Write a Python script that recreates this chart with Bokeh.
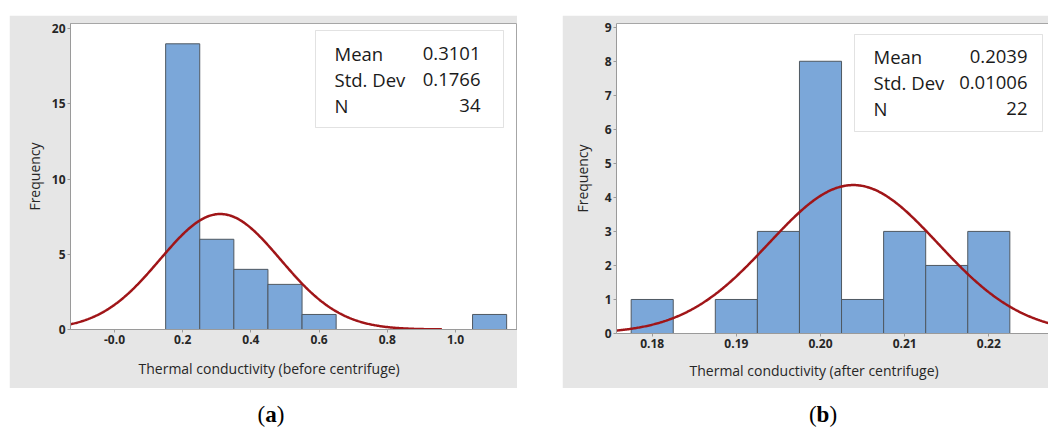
import numpy as np
from bokeh.plotting import figure
from bokeh.models import Range1d, FixedTicker, Label, BoxAnnotation, Spacer, Div, LinearAxis, Title
from bokeh.layouts import row, column
from bokeh.embed import file_html
from bokeh.resources import INLINE

# ---------------- data: panel (a) ----------------
bin_left_a = [0.15, 0.25, 0.35, 0.45, 0.55, 1.05]
bin_right_a = [0.25, 0.35, 0.45, 0.55, 0.65, 1.15]
counts_a = [19, 6, 4, 3, 1, 1]
mean_a, sd_a, n_a = 0.3101, 0.1766, 34
binw_a = 0.1
xticks_a = [0.0, 0.2, 0.4, 0.6, 0.8, 1.0]
xtick_labels_a = ["-0.0", "0.2", "0.4", "0.6", "0.8", "1.0"]
yticks_a = [0, 5, 10, 15, 20]
stats_labels_a = ["Mean", "Std. Dev", "N"]
stats_values_a = ["0.3101", "0.1766", "34"]
xlabel_a = "Thermal conductivity (before centrifuge)"

# ---------------- data: panel (b) ----------------
bin_left_b = [0.1775, 0.1825, 0.1875, 0.1925, 0.1975, 0.2025, 0.2075, 0.2125, 0.2175]
bin_right_b = [0.1825, 0.1875, 0.1925, 0.1975, 0.2025, 0.2075, 0.2125, 0.2175, 0.2225]
counts_b = [1, 0, 1, 3, 8, 1, 3, 2, 3]
mean_b, sd_b, n_b = 0.2039, 0.01006, 22
binw_b = 0.005
xticks_b = [0.18, 0.19, 0.20, 0.21, 0.22]
xtick_labels_b = ["0.18", "0.19", "0.20", "0.21", "0.22"]
yticks_b = [0, 1, 2, 3, 4, 5, 6, 7, 8, 9]
stats_labels_b = ["Mean", "Std. Dev", "N"]
stats_values_b = ["0.2039", "0.01006", "22"]
xlabel_b = "Thermal conductivity (after centrifuge)"

BG = "#e6e6e6"
BAR = "#7ba7d9"
BAR_LINE = "#4f5861"
CURVE = "#a01518"
AX = "#9a9a9a"
TXT = "#262626"


def fitted(xs, mean, sd, n, bw):
    xs = np.asarray(xs)
    return n * bw * np.exp(-0.5 * ((xs - mean) / sd) ** 2) / (sd * np.sqrt(2 * np.pi))


def make_panel(width, height, xr, yr, ml, mt, mb, outline):
    p = figure(width=width, height=height, x_range=Range1d(*xr), y_range=Range1d(*yr),
               output_backend="svg", toolbar_location=None,
               min_border_left=ml, min_border_right=0, min_border_top=mt, min_border_bottom=mb,
               border_fill_color=BG, background_fill_color="white",
               outline_line_color="#a6a6a6" if outline else None)
    p.grid.visible = False
    for ax in (p.xaxis[0], p.yaxis[0]):
        ax.axis_line_color = AX
        ax.major_tick_line_color = AX
        ax.major_tick_out = 3
        ax.major_tick_in = 0
        ax.minor_tick_line_color = None
        ax.major_label_text_font = "Open Sans"
        ax.major_label_text_font_size = "12px"
        ax.major_label_text_font_style = "bold"
        ax.major_label_text_color = TXT
        ax.major_label_standoff = 2
    p.yaxis.axis_label = "Frequency"
    p.yaxis.axis_label_text_font = "Open Sans"
    p.yaxis.axis_label_text_font_size = "14px"
    p.yaxis.axis_label_text_font_style = "normal"
    p.yaxis.axis_label_text_color = TXT
    return p


def add_texts(p, fx, fy, xlabel, xl_offset, xl_standoff, box, rows_y, left_x, right_x, labels, values):
    l, t, r, b = box
    p.add_layout(BoxAnnotation(left=fx(l), right=fx(r), top=fy(t), bottom=fy(b),
                               fill_color="white", fill_alpha=1.0,
                               line_color="#a0a0a0", line_width=1, level="annotation"))
    for yy, lab, val in zip(rows_y, labels, values):
        p.add_layout(Label(x=fx(left_x), y=fy(yy), text=lab, text_font="Open Sans",
                           text_font_size="18.5px", text_color="#1a1a1a",
                           text_baseline="middle", text_align="left"))
        p.add_layout(Label(x=fx(right_x), y=fy(yy), text=val, text_font="Open Sans",
                           text_font_size="18.5px", text_color="#1a1a1a",
                           text_baseline="middle", text_align="right"))
    p.add_layout(Title(text=xlabel, align="left", offset=xl_offset, standoff=xl_standoff,
                       text_font="Open Sans", text_font_size="14px",
                       text_font_style="normal", text_color=TXT), "below")


# ---------------- panel (a) ----------------
# page-pixel layout of frame a: left 70, right 517, top 23, bottom 329
LA, RA, TA, BA = 70, 517, 23, 329
xr_a = (-0.1290, 1.1818)
yr_a = (0, 20.35)
fxa = lambda px: xr_a[0] + (px - LA) / (RA - LA) * (xr_a[1] - xr_a[0])
fya = lambda py: yr_a[0] + (BA - py) / (BA - TA) * (yr_a[1] - yr_a[0])

pa = make_panel(508, 373, xr_a, yr_a, ml=LA - 9, mt=TA - 15, mb=388 - BA, outline=True)
pa.xaxis.ticker = FixedTicker(ticks=xticks_a)
pa.xaxis.major_label_overrides = {t: s for t, s in zip(xticks_a, xtick_labels_a)}
pa.yaxis.ticker = FixedTicker(ticks=yticks_a)
pa.yaxis.axis_label_standoff = 5
pa.quad(left=bin_left_a, right=bin_right_a, bottom=0, top=counts_a,
        fill_color=BAR, line_color=BAR_LINE, line_width=1)
xs_a = np.linspace(xr_a[0], 0.96, 400)
pa.line(xs_a, fitted(xs_a, mean_a, sd_a, n_a, binw_a), line_color=CURVE, line_width=2.5)
add_texts(pa, fxa, fya, xlabel_a, 68, 20, (315, 30, 503, 127), (53, 79, 105),
          334, 480, stats_labels_a, stats_values_a)

# ---------------- panel (b) ----------------
LB, RB, TB, BB = 616, 1048, 23, 333
xr_b = (0.175758, 0.227094)
yr_b = (0, 9.11)
fxb = lambda px: xr_b[0] + (px - LB) / (RB - LB) * (xr_b[1] - xr_b[0])
fyb = lambda py: yr_b[0] + (BB - py) / (BB - TB) * (yr_b[1] - yr_b[0])

pb = make_panel(486, 373, xr_b, yr_b, ml=LB - 562, mt=TB - 15, mb=388 - BB, outline=False)
pb.xaxis.ticker = FixedTicker(ticks=xticks_b)
pb.xaxis.major_label_overrides = {t: s for t, s in zip(xticks_b, xtick_labels_b)}
pb.yaxis.ticker = FixedTicker(ticks=yticks_b)
pb.yaxis.axis_label_standoff = 10
top_axis = LinearAxis(ticker=FixedTicker(ticks=[]), axis_line_color="#a6a6a6",
                      major_tick_line_color=None, minor_tick_line_color=None,
                      major_label_text_color=None)
pb.add_layout(top_axis, "above")
nz = [i for i, c in enumerate(counts_b) if c > 0]
pb.quad(left=[bin_left_b[i] for i in nz], right=[bin_right_b[i] for i in nz], bottom=0,
        top=[counts_b[i] for i in nz], fill_color=BAR, line_color=BAR_LINE, line_width=1)
xs_b = np.linspace(xr_b[0], xr_b[1], 400)
pb.line(xs_b, fitted(xs_b, mean_b, sd_b, n_b, binw_b), line_color=CURVE, line_width=2.5)
add_texts(pb, fxb, fyb, xlabel_b, 73, 16, (854, 34, 1042, 131), (56, 82, 108),
          873, 1027, stats_labels_b, stats_values_b)

# ---------------- captions ----------------
cap_style = {"font-family": "Liberation Serif", "font-size": "23px", "text-align": "center",
             "color": "#000000", "padding-top": "10px", "line-height": "1"}
div_a = Div(text="(<b>a</b>)", width=100, height=42, styles=cap_style)
div_b = Div(text="(<b>b</b>)", width=100, height=42, styles=cap_style)

layout = column(
    Spacer(height=15),
    row(Spacer(width=9), column(pa), Spacer(width=45), column(pb)),
    row(Spacer(width=216), div_a, Spacer(width=442), div_b),
)

with open("out.html", "w") as f:
    f.write(file_html(layout, INLINE))
